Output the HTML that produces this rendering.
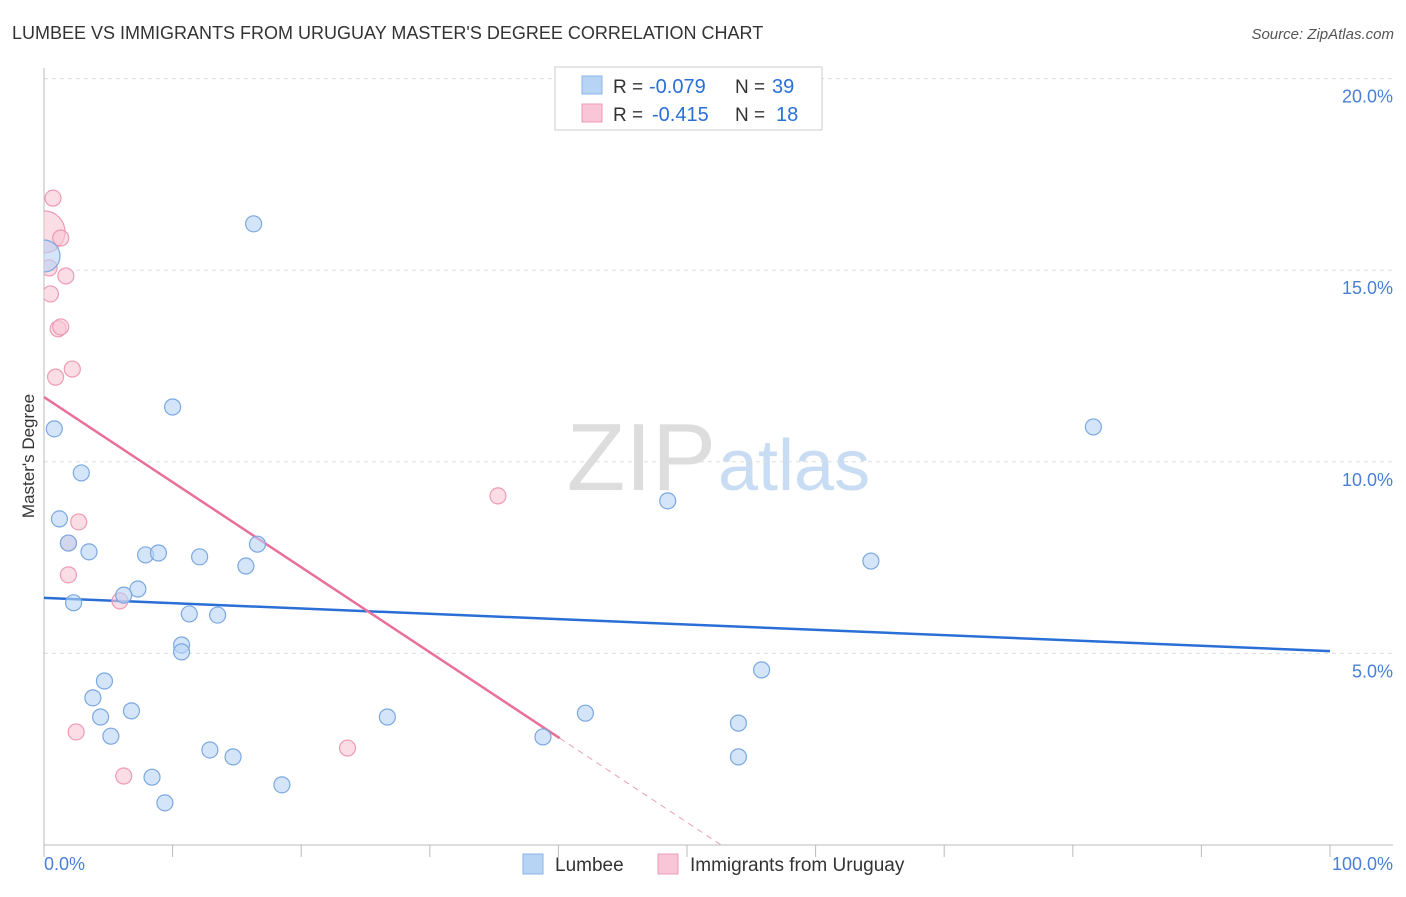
<!DOCTYPE html>
<html><head><meta charset="utf-8"><style>
body{margin:0;background:#fff;font-family:"Liberation Sans",sans-serif}
svg text{font-family:"Liberation Sans",sans-serif}
</style></head><body>
<svg id="chart" width="1406" height="892" xmlns="http://www.w3.org/2000/svg">
<defs><clipPath id="plotclip"><rect x="44" y="60" width="1360" height="790"/></clipPath></defs>
<text x="12" y="39" font-size="18" fill="#333">LUMBEE VS IMMIGRANTS FROM URUGUAY MASTER'S DEGREE CORRELATION CHART</text>
<text x="1394" y="39" font-size="15" fill="#555" text-anchor="end" font-style="italic">Source: ZipAtlas.com</text>
<text x="716" y="490" font-size="96" fill="#ddd" text-anchor="end" font-family="Liberation Serif">ZIP</text>
<text x="718" y="490" font-size="72" fill="#c8dcf3">atlas</text>
<g id="grid"></g>
<g id="axes"></g>
<g id="lines"></g>
<g id="points" clip-path="url(#plotclip)"></g>
<text transform="translate(34,456) rotate(-90)" font-size="17" fill="#333" text-anchor="middle">Master's Degree</text>
<text x="44" y="870" font-size="18" fill="#4a7fd8">0.0%</text>
<text x="1393" y="870" font-size="18" fill="#4a7fd8" text-anchor="end">100.0%</text>
<g>
<rect x="555" y="67" width="267" height="63" fill="#fff" stroke="#ccc"/>
<rect x="582" y="76" width="20" height="18" fill="#b8d4f5" stroke="#8ab4e8"/>
<rect x="582" y="104" width="20" height="18" fill="#f8c6d6" stroke="#ee9ab5"/>
<text x="613" y="93" font-size="19" fill="#333">R =</text>
<text x="649" y="93" font-size="20" fill="#2a6fd6">-0.079</text>
<text x="735" y="93" font-size="19" fill="#333">N =</text>
<text x="772" y="93" font-size="20" fill="#2a6fd6">39</text>
<text x="613" y="121" font-size="19" fill="#333">R =</text>
<text x="652" y="121" font-size="20" fill="#2a6fd6">-0.415</text>
<text x="735" y="121" font-size="19" fill="#333">N =</text>
<text x="776" y="121" font-size="20" fill="#2a6fd6">18</text>
</g>
<g>
<rect x="523" y="854" width="20" height="20" fill="#b8d4f5" stroke="#8ab4e8"/>
<text x="555" y="871" font-size="19" fill="#333">Lumbee</text>
<rect x="658" y="854" width="20" height="20" fill="#f8c6d6" stroke="#ee9ab5"/>
<text x="690" y="871" font-size="19" fill="#333">Immigrants from Uruguay</text>
</g>
</svg>
<script>
const yTicks=[5,10,15,20];
const yTickLabels=["5.0%","10.0%","15.0%","20.0%"];
const xTicks=[0,10,20,30,40,50,60,70,80,90,100];
const lumbeeX=[0,0.8,2.9,1.2,3.5,1.9,2.3,7.9,8.9,12.1,10.0,16.3,16.6,15.7,7.3,6.2,11.3,13.5,10.7,10.7,4.7,3.8,4.4,6.8,5.2,8.4,9.4,12.9,14.7,18.5,26.7,38.8,42.1,48.5,55.8,54.0,54.0,64.3,81.6];
const lumbeeY=[15.37,10.86,9.71,8.51,7.65,7.88,6.32,7.57,7.62,7.52,11.43,16.21,7.85,7.28,6.68,6.52,6.03,6.00,5.22,5.04,4.28,3.84,3.34,3.50,2.84,1.77,1.10,2.48,2.30,1.57,3.34,2.82,3.44,8.98,4.57,3.18,2.30,7.41,10.91];
const lumbeeR=[16,8,8,8,8,8,8,8,8,8,8,8,8,8,8,8,8,8,8,8,8,8,8,8,8,8,8,8,8,8,8,8,8,8,8,8,8,8,8];
const uruX=[0,0.7,1.3,1.7,0.5,1.1,1.3,0.9,2.2,2.7,1.9,1.9,5.9,2.5,6.2,23.6,35.3,0.4];
const uruY=[16.0,16.88,15.84,14.85,14.38,13.47,13.52,12.21,12.42,8.43,7.88,7.05,6.37,2.95,1.80,2.53,9.11,15.06];
const uruR=[21,8,8,8,8,8,8,8,8,8,8,8,8,8,8,8,8,8];
const lumbeeTrend=[6.45,5.06];
const uruTrend=[11.69,-0.222];
const uruSolidEnd=40.1;
const NS="http://www.w3.org/2000/svg";
const X=v=>44+v*12.86, Y=v=>845-v*38.32;
function mk(tag,attrs,parent){const e=document.createElementNS(NS,tag);for(const k in attrs)e.setAttribute(k,attrs[k]);document.getElementById(parent).appendChild(e);return e;}
yTicks.forEach((t,i)=>{
 const l=mk('line',{x1:44,x2:1393,y1:Y(t),y2:Y(t),stroke:'#ddd','stroke-dasharray':'4,4'},'grid');
 
 
 const tx=mk('text',{x:1393,y:Y(t)+24,'font-size':18,fill:'#4a7fd8','text-anchor':'end'},'grid');
 tx.textContent=yTickLabels[i];
 
 
});
const ax=mk('line',{x1:44,x2:44,y1:68,y2:845,stroke:'#bbb'},'axes');


const bx=mk('line',{x1:44,x2:1393,y1:845,y2:845,stroke:'#bbb'},'axes');


xTicks.forEach(t=>{
 const l=mk('line',{x1:X(t),x2:X(t),y1:845,y2:857,stroke:'#bbb'},'axes');
 
 
});
const bl=mk('line',{x1:X(0),y1:Y(lumbeeTrend[0]),x2:X(100),y2:Y(lumbeeTrend[1]),stroke:'#2a6fd6','stroke-width':2.5},'lines');


const pf=x=>uruTrend[0]+uruTrend[1]*x;
const zeroX=-uruTrend[0]/uruTrend[1];
const pl=mk('line',{x1:X(0),y1:Y(pf(0)),x2:X(uruSolidEnd),y2:Y(pf(uruSolidEnd)),stroke:'#e8709a','stroke-width':2.5},'lines');


const pd=mk('line',{x1:X(uruSolidEnd),y1:Y(pf(uruSolidEnd)),x2:X(zeroX),y2:Y(0),stroke:'#e8a0b8','stroke-width':1,'stroke-dasharray':'6,5'},'lines');


uruX.forEach((x,i)=>{
 const c=mk('circle',{cx:X(x),cy:Y(uruY[i]),r:uruR[i],fill:'#f8c6d6','fill-opacity':0.6,stroke:'#ee9ab5','stroke-width':1.2},'points');
 
 
});
lumbeeX.forEach((x,i)=>{
 const c=mk('circle',{cx:X(x),cy:Y(lumbeeY[i]),r:lumbeeR[i],fill:'#b8d4f5','fill-opacity':0.6,stroke:'#7aa8e0','stroke-width':1.2},'points');
 
 
});
</script>
</body></html>
